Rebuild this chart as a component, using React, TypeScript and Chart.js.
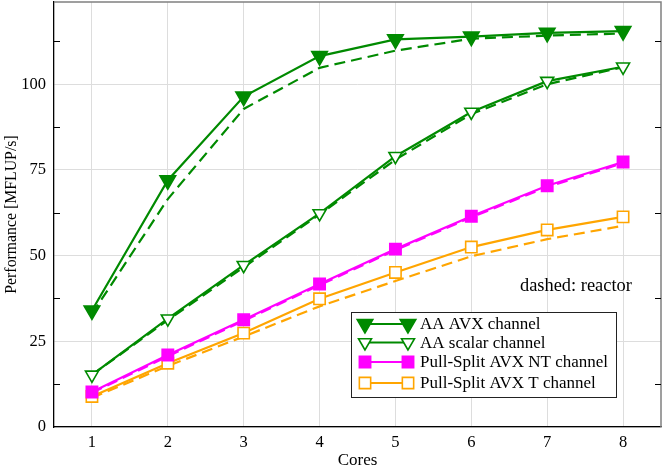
import { useEffect, useRef } from "react";
import { Chart, registerables } from "chart.js";

Chart.register(...registerables);

const cores = [1, 2, 3, 4, 5, 6, 7, 8];
const xTickValues = [1, 2, 3, 4, 5, 6, 7, 8];
const yTickValues = [0, 25, 50, 75, 100];
const yMinorTicks = [12.5, 37.5, 62.5, 87.5, 112.5];

const avxChannel = [34, 72, 96.4, 108.2, 113.1, 113.9, 115.0, 115.5];
const avxReactor = [33, 66.5, 92.8, 104.8, 109.8, 113.3, 114.2, 114.8];
const scalarChannel = [15.2, 31.6, 47.2, 62.3, 79.0, 91.9, 100.9, 105.1];
const scalarReactor = [15.2, 31.2, 46.6, 62.0, 78.0, 91.3, 100.0, 105.0];
const ntChannel = [10.2, 21.0, 31.3, 41.7, 51.9, 61.5, 70.4, 77.3];
const ntReactor = [10.0, 20.6, 31.0, 41.4, 51.6, 61.2, 70.0, 77.0];
const tChannel = [8.9, 18.6, 27.4, 37.4, 45.1, 52.5, 57.5, 61.3];
const tReactor = [8.5, 17.8, 26.4, 35.2, 42.6, 49.8, 54.8, 58.7];

const legendLabels = [
  "AA AVX channel",
  "AA scalar channel",
  "Pull-Split AVX NT channel",
  "Pull-Split AVX T channel",
];
const noteText = "dashed: reactor";
const xTitle = "Cores";
const yTitle = "Performance [MFLUP/s]";

const GREEN = "#008a00";
const MAGENTA = "#ff00ff";
const ORANGE = "#ffa500";
const FONT = "'Liberation Serif', 'DejaVu Serif', serif";

type MarkerSpec = { kind: "tri" | "sq"; fill: string; stroke: string; r: number };

const markerSpecs: MarkerSpec[] = [
  { kind: "tri", fill: GREEN, stroke: GREEN, r: 9 },
  { kind: "tri", fill: "#ffffff", stroke: GREEN, r: 7.5 },
  { kind: "sq", fill: MAGENTA, stroke: MAGENTA, r: 8 },
  { kind: "sq", fill: "#ffffff", stroke: ORANGE, r: 8 },
];
const lineColors = [GREEN, GREEN, MAGENTA, ORANGE];

function drawMarker(ctx: CanvasRenderingContext2D, m: MarkerSpec, x: number, y: number) {
  ctx.save();
  ctx.beginPath();
  if (m.kind === "tri") {
    const r = m.r;
    ctx.moveTo(x, y + r);
    ctx.lineTo(x - r * Math.sin(Math.PI / 3), y - r * 0.5);
    ctx.lineTo(x + r * Math.sin(Math.PI / 3), y - r * 0.5);
    ctx.closePath();
  } else {
    const s = m.r * Math.SQRT1_2;
    ctx.rect(x - s, y - s, 2 * s, 2 * s);
  }
  ctx.fillStyle = m.fill;
  ctx.fill();
  ctx.lineWidth = 1.6;
  ctx.strokeStyle = m.stroke;
  ctx.stroke();
  ctx.restore();
}

const decorPlugin = {
  id: "decor",
  afterDatasetsDraw(chart: any) {
    const { ctx, chartArea, scales } = chart;
    const ys = scales.y;
    ctx.save();
    // top / right border
    ctx.strokeStyle = "#808080";
    ctx.lineWidth = 1.5;
    ctx.beginPath();
    ctx.moveTo(chartArea.left, chartArea.top);
    ctx.lineTo(chartArea.right, chartArea.top);
    ctx.lineTo(chartArea.right, chartArea.bottom);
    ctx.stroke();
    // minor ticks
    ctx.strokeStyle = "#000000";
    ctx.lineWidth = 1;
    yMinorTicks.forEach((v) => {
      const py = Math.round(ys.getPixelForValue(v)) + 0.5;
      ctx.beginPath();
      ctx.moveTo(chartArea.left, py);
      ctx.lineTo(chartArea.left + 6, py);
      ctx.moveTo(chartArea.right, py);
      ctx.lineTo(chartArea.right - 6, py);
      ctx.stroke();
    });
    // note text
    ctx.fillStyle = "#000";
    ctx.font = `18.4px ${FONT}`;
    ctx.textAlign = "left";
    ctx.textBaseline = "middle";
    ctx.fillText(noteText, 520, 286);

    // legend
    const bx = 351;
    const by = 312;
    const bw = 265;
    const bh = 85;
    ctx.fillStyle = "#ffffff";
    ctx.fillRect(bx, by, bw, bh);
    ctx.strokeStyle = "#222";
    ctx.lineWidth = 1;
    ctx.strokeRect(bx + 0.5, by + 0.5, bw, bh);
    const rowOffsets = [12, 30.5, 50, 71];
    legendLabels.forEach((label, i) => {
      const ry = by + rowOffsets[i];
      const x1 = bx + 14;
      const x2 = bx + 57;
      ctx.strokeStyle = lineColors[i];
      ctx.lineWidth = 2.2;
      ctx.beginPath();
      ctx.moveTo(x1, ry);
      ctx.lineTo(x2, ry);
      ctx.stroke();
      drawMarker(ctx, markerSpecs[i], x1, ry);
      drawMarker(ctx, markerSpecs[i], x2, ry);
      ctx.fillStyle = "#000";
      ctx.font = `17px ${FONT}`;
      ctx.textAlign = "left";
      ctx.textBaseline = "middle";
      ctx.fillText(label, bx + 69, ry + 1);
    });
    ctx.restore();
  },
};

function solid(label: string, data: number[], color: string, style: string, rotation: number, fill: string, r: number) {
  return {
    label,
    data: cores.map((c, i) => ({ x: c, y: data[i] })),
    borderColor: color,
    borderWidth: 2.2,
    pointStyle: style,
    rotation,
    pointRadius: r,
    pointBackgroundColor: fill,
    pointBorderColor: color,
    pointBorderWidth: 1.6,
    fill: false,
  };
}

function dashed(label: string, data: number[], color: string) {
  return {
    label,
    data: cores.map((c, i) => ({ x: c, y: data[i] })),
    borderColor: color,
    borderWidth: 2.2,
    borderDash: [11, 6],
    pointRadius: 0,
    fill: false,
  };
}

export default function App() {
  const ref = useRef<HTMLCanvasElement>(null);
  useEffect(() => {
    if (!ref.current) return;
    const chart = new Chart(ref.current, {
      type: "line",
      data: {
        datasets: [
          solid(legendLabels[0], avxChannel, GREEN, "triangle", 180, GREEN, 9),
          solid(legendLabels[1], scalarChannel, GREEN, "triangle", 180, "#ffffff", 7.5),
          solid(legendLabels[2], ntChannel, MAGENTA, "rect", 0, MAGENTA, 8),
          solid(legendLabels[3], tChannel, ORANGE, "rect", 0, "#ffffff", 8),
          dashed("AA AVX reactor", avxReactor, GREEN),
          dashed("AA scalar reactor", scalarReactor, GREEN),
          dashed("Pull-Split AVX NT reactor", ntReactor, MAGENTA),
          dashed("Pull-Split AVX T reactor", tReactor, ORANGE),
        ] as any,
      },
      options: {
        responsive: false,
        animation: false,
        devicePixelRatio: 1,
        layout: { autoPadding: false, padding: { top: 2, right: 3, left: 0, bottom: 0 } },
        plugins: { legend: { display: false }, tooltip: { enabled: false } },
        scales: {
          x: {
            type: "linear",
            min: 0.5,
            max: 8.5,
            afterBuildTicks: (s: any) => {
              s.ticks = xTickValues.map((v) => ({ value: v }));
            },
            afterFit: (s: any) => {
              s.height = 39;
              s.paddingLeft = 0;
              s.paddingRight = 0;
              s.paddingTop = 0;
              s.paddingBottom = 0;
            },
            grid: { color: "#dddddd", lineWidth: 1, drawTicks: false },
            border: { display: true, color: "#000000", width: 1.3 },
            ticks: {
              color: "#000",
              font: { family: FONT, size: 16.5 },
              padding: 6,
              maxRotation: 0,
            },
            title: {
              display: true,
              text: xTitle,
              color: "#000",
              font: { family: FONT, size: 17, lineHeight: 1 },
              padding: { top: 0, bottom: -3.5 },
            },
          },
          y: {
            type: "linear",
            min: 0,
            max: 124,
            afterBuildTicks: (s: any) => {
              s.ticks = yTickValues.map((v) => ({ value: v }));
            },
            afterFit: (s: any) => {
              s.width = 54;
              s.paddingLeft = 0;
              s.paddingRight = 0;
              s.paddingTop = 0;
              s.paddingBottom = 0;
            },
            grid: { color: "#dddddd", lineWidth: 1, drawTicks: false },
            border: { display: true, color: "#000000", width: 1.3 },
            ticks: {
              color: "#000",
              font: { family: FONT, size: 16.5 },
              padding: 8,
            },
            title: {
              display: true,
              text: yTitle,
              color: "#000",
              font: { family: FONT, size: 15.8, lineHeight: 1 },
              padding: { top: 4, bottom: 0 },
            },
          },
        },
      } as any,
      plugins: [decorPlugin],
    });
    return () => chart.destroy();
  }, []);
  return (
    <div style={{ position: "fixed", left: 0, top: 0, width: 664, height: 466, background: "#fff" }}>
      <canvas ref={ref} width={664} height={466} style={{ display: "block" }} />
    </div>
  );
}
